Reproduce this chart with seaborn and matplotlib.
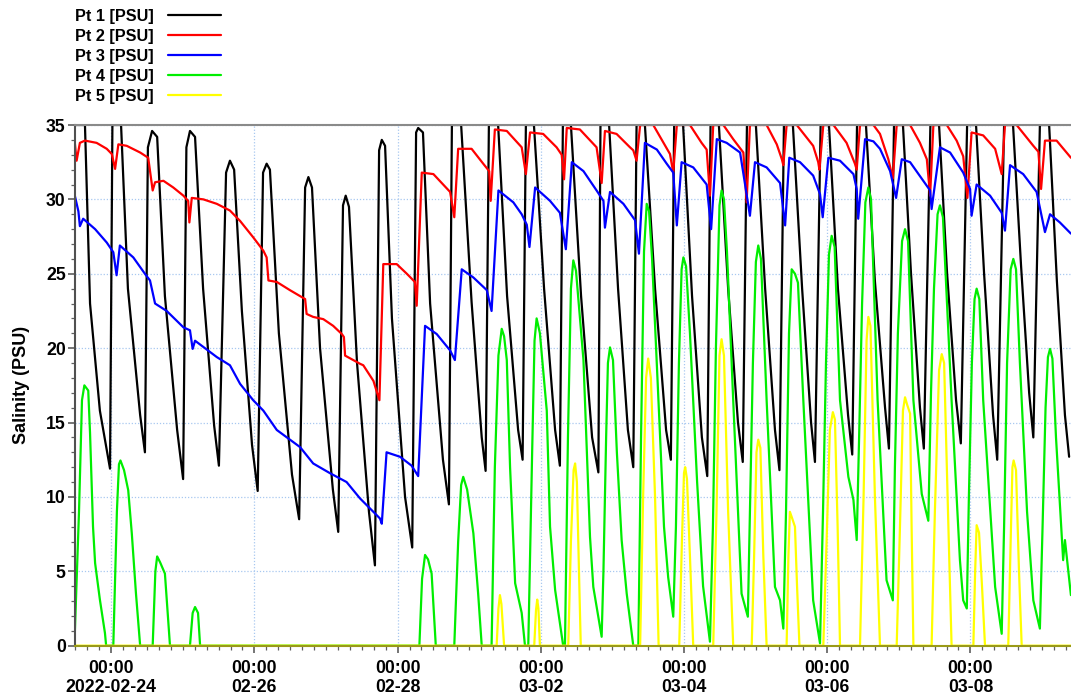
import matplotlib
matplotlib.use("Agg")
import matplotlib.pyplot as plt
import matplotlib.dates as mdates
from matplotlib.ticker import MultipleLocator
from matplotlib.lines import Line2D
import pandas as pd
import seaborn as sns

# ---------------- data (hours after 2022-02-24 00:00, salinity PSU) ----------------
series_names = ["Pt 1 [PSU]", "Pt 2 [PSU]", "Pt 3 [PSU]", "Pt 4 [PSU]", "Pt 5 [PSU]"]
series_colors = ["#000000", "#ff0000", "#0000ff", "#00ee00", "#ffff00"]

pt1_h = [-12.1, -8.8, -7.1, -3.8, -0.4,
         0.4, 3.3, 5.6, 9.7, 11.3,
         12.3, 13.7, 15.4, 18.0, 22.1, 24.1,
         25.2, 26.4, 28.1, 30.8, 34.5, 36.1,
         38.5, 39.8, 41.2, 43.8, 47.2, 49.1,
         50.9, 52.1, 53.2, 56.2, 60.6, 63.0,
         65.0, 66.1, 67.3, 70.0, 74.3, 76.1,
         77.7, 78.6, 79.7, 82.4, 86.4, 88.4,
         89.8, 90.7, 91.8, 94.1, 98.5, 100.9,
         102.2, 102.9, 104.5, 106.9, 111.2, 113.2,
         114.2, 117.3, 120.8, 124.2, 125.5,
         126.6, 129.7, 132.7, 136.4, 137.9,
         139.0, 141.7, 145.1, 148.8, 150.4,
         151.4, 154.1, 157.5, 161.2, 163.3,
         164.0, 166.9, 169.9, 173.2, 175.0,
         176.1, 178.9, 182.3, 186.0, 187.6,
         188.7, 191.7, 194.7, 198.0, 199.8,
         200.9, 203.7, 206.8, 210.1, 211.7,
         213.1, 216.1, 219.2, 222.5, 224.0,
         225.5, 228.5, 231.6, 234.6, 235.9,
         237.8, 240.6, 243.6, 247.0, 248.4,
         250.0, 253.0, 256.0, 259.4, 260.7,
         262.4, 265.4, 268.1, 271.1, 272.4,
         274.6, 277.5, 280.2, 283.2, 284.8,
         286.9, 289.9, 292.6, 295.6, 297.0,
         299.3, 302.3, 305.0, 307.7, 309.1,
         311.3, 314.4, 317.0, 319.7, 321.1]
pt1_v = [35, 35, 23, 15.8, 11.9,
         35, 35, 24, 15.5, 13.0,
         33.5, 34.6, 34.2, 23.5, 14.5, 11.2,
         33.5, 34.6, 34.2, 24, 14.8, 12.1,
         31.8, 32.6, 32.0, 22.5, 13.5, 10.4,
         31.8, 32.4, 32.0, 21, 11.5, 8.5,
         30.8, 31.5, 30.8, 20, 10.5, 7.65,
         29.6, 30.25, 29.5, 19, 9, 5.4,
         33.3, 34.0, 33.6, 22, 10, 6.6,
         34.5, 34.8, 34.5, 23, 12.5, 9.5,
         35, 35, 23.1, 14.0, 11.75,
         35, 35, 23.5, 14.5, 12.5,
         35, 35, 24, 14.5, 12.1,
         35, 35, 23.5, 14, 11.65,
         35, 35, 24, 14.5, 12.0,
         35, 35, 24, 14.5, 12.5,
         35, 35, 23.5, 14, 11.4,
         35, 35, 24, 15, 12.35,
         35, 35, 24, 14.5, 11.8,
         35, 35, 24, 15, 12.35,
         35, 35, 24, 15.5, 12.85,
         35, 35, 24.5, 16, 13.25,
         35, 35, 25, 16, 13.25,
         35, 35, 25, 16.5, 13.6,
         35, 35, 25, 15.5, 12.5,
         35, 35, 25.5, 17, 14.0,
         35, 35, 24.5, 15.5, 12.7]

pt2_h = [-12.2, -11.6, -10.5, -8.8, -4.9, -1.5, 0.2, 1.3, 2.4, 5.2,
         9.7, 12.4, 13.9, 14.7, 17.5, 20.8, 24.2, 25.8, 26.2, 27.0,
         30.9, 35.4, 39.8, 43.2, 47.6, 51.0, 52.1, 52.7, 55.5, 59.9,
         63.3, 65.0, 65.5, 67.7, 71.1, 74.4, 77.3, 78.0, 78.4, 83.4,
         84.5, 87.9, 89.9, 91.2, 95.7, 99.1, 101.8, 102.4, 104.1, 108.0,
         113.6, 115.0, 116.3, 120.8, 124.7, 126.7, 127.2, 128.6, 132.6, 137.6,
         139.0, 140.4, 144.8, 149.3, 151.0, 151.8, 152.7, 157.1, 162.7, 164.4,
         165.5, 169.4, 173.9, 175.0, 176.1, 177.3, 181.7, 187.3, 188.4, 189.6,
         194.0, 197.9, 199.6, 200.7, 201.8, 205.2, 208.5, 211.9, 213.0, 214.1,
         219.7, 223.1, 224.8, 225.3, 226.4, 229.8, 235.3, 237.0, 237.4, 238.7,
         242.1, 246.5, 249.3, 249.9, 251.0, 255.5, 257.7, 260.5, 262.0, 263.3,
         267.8, 271.1, 273.4, 274.5, 275.6, 280.1, 283.4, 285.6, 287.0, 288.4,
         292.3, 296.3, 298.5, 299.6, 303.5, 309.1, 310.8, 311.7, 313.0, 316.9,
         321.7]
pt2_v = [33.8, 32.6, 33.8, 33.95, 33.8, 33.4, 33.05, 32.05, 33.7, 33.6,
         33.15, 32.8, 30.6, 31.15, 31.25, 30.8, 30.25, 29.9, 28.45, 30.1,
         30.0, 29.7, 29.25, 28.55, 27.45, 26.55, 26.1, 24.55, 24.45, 23.9,
         23.5, 23.3, 22.3, 22.1, 21.95, 21.5, 20.95, 20.75, 19.5, 18.95,
         18.85, 17.8, 16.5, 25.65, 25.65, 25.0, 24.45, 22.85, 31.8, 31.7,
         30.5, 28.8, 33.4, 33.4, 32.4, 31.9, 29.9, 34.7, 34.6, 33.5,
         31.7, 34.5, 34.4, 33.5, 33.0, 31.35, 34.8, 34.7, 33.5, 31.1,
         34.6, 34.4, 33.5, 33.3, 32.6, 35, 35, 33.05, 31.8, 35,
         35, 33.8, 33.35, 30.25, 35, 35, 34.05, 33.15, 29.8, 35,
         35, 33.7, 32.7, 32.3, 35, 35, 33.6, 32.5, 32.0, 35,
         35, 33.8, 32.4, 32.0, 35, 35, 34.4, 32.7, 31.4, 35,
         35, 33.8, 32.7, 30.25, 35, 35, 33.95, 32.9, 30.1, 34.5,
         34.3, 33.4, 31.7, 35, 35, 33.6, 33.2, 30.7, 33.95, 33.95,
         32.8]

pt3_h = [-12.2, -11.0, -10.5, -9.4, -5.4, -1.5, 0.7, 1.8, 2.9, 7.4,
         11.3, 13.0, 14.7, 18.6, 24.2, 26.4, 27.3, 28.1, 35.4, 39.8,
         43.2, 47.6, 51.0, 55.5, 63.3, 67.7, 73.3, 78.9, 83.4, 90.1,
         90.7, 92.3, 96.8, 100.7, 102.9, 105.2, 109.1, 113.6, 115.2, 117.5,
         121.4, 125.9, 127.5, 129.8, 134.8, 137.6, 139.3, 140.2, 142.1, 147.1,
         150.4, 152.4, 154.4, 158.3, 162.7, 165.0, 165.5, 167.2, 171.7, 175.6,
         176.9, 178.9, 182.9, 186.2, 188.4, 189.6, 191.2, 195.1, 199.6, 201.1,
         203.0, 206.3, 210.8, 212.4, 214.1, 215.8, 219.7, 224.2, 225.9, 227.3,
         230.9, 235.3, 237.6, 238.5, 240.4, 244.3, 248.8, 249.9, 250.4, 252.7,
         255.5, 257.7, 261.1, 263.1, 265.0, 267.8, 274.5, 275.0, 277.8, 281.2,
         285.6, 287.9, 288.4, 290.1, 294.6, 298.5, 299.6, 301.3, 305.7, 310.2,
         313.0, 314.7, 318.0, 321.7]
pt3_v = [30.25, 29.2, 28.2, 28.7, 28.0, 27.1, 26.45, 24.9, 26.9, 26.1,
         25.0, 24.55, 23.0, 22.5, 21.4, 21.2, 19.95, 20.5, 19.4, 18.85,
         17.6, 16.5, 15.8, 14.5, 13.35, 12.25, 11.6, 11.0, 9.9, 8.55,
         8.2, 13.0, 12.7, 12.1, 11.4, 21.5, 20.95, 19.85, 19.2, 25.3,
         24.75, 23.9, 22.5, 30.6, 29.8, 29.0, 28.3, 26.8, 30.8, 29.9,
         29.1, 26.65, 32.5, 31.9, 30.6, 29.9, 28.1, 30.5, 29.7, 28.6,
         26.35, 33.8, 33.35, 32.4, 31.8, 28.25, 32.5, 32.15, 31.0, 28.0,
         34.05, 33.8, 33.15, 31.1, 28.9, 32.5, 32.15, 31.1, 28.25, 32.8,
         32.5, 31.6, 30.35, 28.8, 32.8, 32.6, 31.7, 30.7, 28.7, 34.05,
         33.9, 33.4, 31.9, 30.1, 32.7, 32.5, 30.6, 29.35, 33.5, 33.15,
         31.8, 30.7, 28.9, 31.0, 30.25, 29.1, 27.9, 32.3, 31.7, 30.5,
         27.8, 29.0, 28.45, 27.7]

pt4_h = [-12.2, -10.8, -9.8, -9.0, -7.7, -7.1, -6.1, -5.4, -3.8, -2.1, -1.7,
         0.7, 1.9, 2.6, 3.1, 4.3, 5.7, 6.9, 8.3, 9.7,
         13.9, 14.8, 15.4, 16.4, 18.0, 19.7,
         26.4, 27.3, 28.1, 29.1, 29.8,
         103.3, 104.2, 105.2, 106.2, 107.4, 108.8,
         115.0, 116.3, 117.3, 118.0, 119.3, 121.4, 123.0, 124.2,
         127.5, 128.6, 129.8, 130.9, 131.7, 132.6, 133.7, 135.4, 137.6, 138.7,
         139.8, 141.1, 141.9, 142.6, 143.7, 146.0, 147.1, 148.8, 151.5,
         152.1, 153.1, 154.1, 154.9, 155.8, 158.3, 160.5, 161.6, 164.4,
         165.0, 165.9, 166.5, 167.2, 168.2, 169.5, 171.1, 172.8, 175.0,
         176.7, 177.6, 178.6, 179.5, 180.3, 181.3, 184.0, 185.3, 186.7, 188.4,
         189.3, 190.3, 191.2, 191.8, 192.7, 194.0, 196.4, 198.4, 200.7,
         201.7, 202.7, 203.9, 204.6, 205.4, 206.4, 208.5, 211.3, 213.4,
         214.1, 215.1, 216.1, 216.9, 217.8, 219.7, 222.5, 224.2, 225.3,
         226.2, 227.2, 228.1, 229.2, 230.2, 232.0, 235.3, 237.6,
         238.6, 239.6, 240.6, 241.5, 242.5, 244.3, 247.1, 248.8, 249.9,
         250.7, 251.7, 252.8, 253.8, 254.7, 256.9, 259.9, 262.0,
         262.7, 263.7, 265.1, 266.1, 267.1, 268.9, 271.7, 273.9,
         274.8, 275.8, 277.0, 277.8, 278.8, 281.7, 284.5, 285.6, 286.8,
         287.5, 288.5, 289.4, 290.1, 291.0, 292.3, 296.3, 298.5,
         299.3, 300.3, 301.5, 302.4, 303.3, 304.6, 307.0, 309.1, 311.3,
         312.2, 313.2, 314.0, 314.7, 315.5, 316.7, 319.1, 319.7, 321.7]
pt4_v = [0.85, 9, 16.5, 17.5, 17.15, 14.3, 8, 5.55, 3.1, 0.85, 0,
         0, 9, 12.2, 12.45, 11.8, 10.45, 7.55, 3.5, 0,
         0, 5, 6.0, 5.6, 4.85, 0,
         0, 2.2, 2.6, 2.2, 0,
         0, 4.5, 6.1, 5.8, 4.85, 0,
         0, 7, 10.8, 11.35, 10.5, 7.55, 3.5, 0,
         0, 12, 19.5, 21.3, 20.8, 19.2, 12, 4.2, 2.2, 0,
         0, 13, 20.5, 22.0, 21.0, 15.8, 8.0, 3.75, 0,
         0, 14, 24, 25.9, 25.2, 19.2, 7.3, 3.95, 0.6,
         5, 14, 19, 20.05, 19.2, 13, 7.1, 3.5, 0,
         0, 14, 26.5, 29.7, 29.2, 26, 14, 8, 4.6, 1.95,
         8, 19, 25.3, 26.1, 25.5, 21, 11, 4, 0.27,
         8, 20, 29.6, 30.6, 30, 26.5, 16.5, 3.5, 1.95,
         9, 19, 25.8, 26.9, 26, 16.5, 3.95, 3.05, 1.15,
         9, 21, 25.3, 25, 24.4, 16.5, 3.05, 0.15,
         9, 19, 26.3, 27.55, 26.8, 16.5, 11.35, 9.8, 7.1,
         14, 23, 29.8, 30.8, 30, 16.5, 4.4, 3.05,
         12, 21, 27.2, 28.0, 27.2, 16.5, 10.2, 8.4,
         17, 24, 29, 29.6, 28.8, 16.5, 5.75, 3.05, 2.5,
         10, 19, 23.3, 24.0, 23.3, 16.5, 3.95, 0.8,
         8, 19, 25.3, 26.0, 25.3, 19, 9, 3.05, 1.15,
         8, 16, 19.4, 19.95, 19.3, 14, 5.75, 7.1, 3.4]

pt5_h = [-12.2,
         129.2, 129.8, 130.3, 130.8, 131.7,
         141.8, 142.4, 142.8, 143.2, 143.7,
         153.2, 154.1, 155.0, 155.5, 156.1, 156.8, 157.4,
         177.3, 178.3, 179.3, 180.0, 180.9, 182.3, 183.5,
         190.4, 191.3, 192.0, 192.4, 193.0, 194.0, 195.1,
         201.8, 202.9, 203.9, 204.6, 205.4, 206.8, 208.5,
         214.7, 215.5, 216.3, 216.9, 217.6, 218.6, 219.7,
         226.4, 227.0, 227.5, 228.2, 229.2, 229.9, 230.7,
         238.7, 239.8, 240.9, 241.9, 242.6, 243.5, 244.3,
         251.0, 252.2, 253.2, 253.8, 254.5, 256.0, 257.7,
         263.3, 264.4, 265.4, 266.1, 266.8, 267.8, 268.3, 268.9,
         275.0, 276.1, 277.5, 278.4, 279.2, 280.5, 281.7,
         289.0, 289.6, 290.1, 290.9, 291.9, 292.9,
         300.7, 301.5, 302.1, 302.5, 303.3, 304.3, 305.2,
         321.7]
pt5_v = [0,
         0, 2.5, 3.4, 2.8, 0,
         0, 2.4, 3.1, 2.5, 0,
         0, 7, 11.8, 12.25, 11, 5, 0,
         0, 10, 18, 19.3, 18, 10, 0,
         0, 7, 11.6, 12.0, 11.2, 6, 0,
         0, 9, 19.5, 20.6, 19.5, 9, 0,
         0, 6, 13, 13.85, 13.3, 6, 0,
         0, 6, 9.0, 8.6, 8.0, 4, 0,
         0, 7, 14.5, 15.7, 15.2, 8, 0,
         0, 10, 20.5, 22.1, 21.5, 10, 0,
         0, 8, 15.8, 16.7, 16.2, 15.6, 8, 0,
         0, 9, 18.5, 19.6, 19, 9, 0,
         0, 5, 8.1, 7.6, 4, 0,
         0, 7, 12, 12.45, 11.8, 5, 0,
         0]

tick_days = ["2022-02-24", "2022-02-26", "2022-02-28", "2022-03-02",
             "2022-03-04", "2022-03-06", "2022-03-08"]
tick_labels = ["00:00\n2022-02-24", "00:00\n02-26", "00:00\n02-28", "00:00\n03-02",
               "00:00\n03-04", "00:00\n03-06", "00:00\n03-08"]
x_start_h, x_end_h = -12.24, 321.73

# ---------------- build table ----------------
t0 = pd.Timestamp("2022-02-24 00:00")
all_h = [pt1_h, pt2_h, pt3_h, pt4_h, pt5_h]
all_v = [pt1_v, pt2_v, pt3_v, pt4_v, pt5_v]
frames = []
for name, hh, vv in zip(series_names, all_h, all_v):
    frames.append(pd.DataFrame({"time": t0 + pd.to_timedelta(hh, unit="h"),
                                "salinity": vv, "series": name}))
df = pd.concat(frames, ignore_index=True)

# ---------------- style ----------------
sns.set_style("ticks")
plt.rcParams["font.family"] = ["Liberation Sans", "DejaVu Sans"]
plt.rcParams["text.color"] = "black"
plt.rcParams["axes.labelcolor"] = "black"
plt.rcParams["xtick.color"] = "black"
plt.rcParams["ytick.color"] = "black"

W, H = 1071, 696
fig = plt.figure(figsize=(W / 100, H / 100), dpi=100)
left_px, right_px, top_px, bottom_px = 74.7, 1071, 125, 645.7
ax = fig.add_axes([left_px / W, 1 - bottom_px / H,
                   (right_px - left_px) / W, (bottom_px - top_px) / H])

palette = dict(zip(series_names, series_colors))
sns.lineplot(data=df, x="time", y="salinity", hue="series", hue_order=series_names,
             palette=palette, estimator=None, sort=False, linewidth=1.6,
             legend=False, ax=ax)

ax.set_xlim(t0 + pd.Timedelta(hours=x_start_h), t0 + pd.Timedelta(hours=x_end_h))
ax.set_ylim(0, 35)
ax.yaxis.set_major_locator(MultipleLocator(5))
ax.yaxis.set_minor_locator(MultipleLocator(1))
ax.set_xticks([pd.Timestamp(d) for d in tick_days])
ax.set_xticklabels(tick_labels)
ax.xaxis.set_minor_locator(mdates.HourLocator(byhour=range(0, 24, 4)))

ax.grid(True, which="major", color="#a8c8f0", linestyle=(0, (1, 1.5)), linewidth=0.9)
ax.set_axisbelow(True)

ax.spines["right"].set_visible(False)
ax.spines["top"].set_color("#8a8a8a")
ax.spines["top"].set_linewidth(1.5)
ax.spines["left"].set_color("#505050")
ax.spines["left"].set_linewidth(1.5)
ax.spines["bottom"].set_color("#9a9a18")
ax.spines["bottom"].set_linewidth(1.5)

ax.tick_params(axis="both", which="major", length=5, width=1.1, color="#505050",
               labelsize=12.7, labelcolor="black")
ax.tick_params(axis="y", which="major", pad=1.5)
ax.tick_params(axis="x", which="major", pad=5.0)
ax.tick_params(axis="both", which="minor", length=3, width=0.9, color="#606060")
for lbl in ax.get_xticklabels() + ax.get_yticklabels():
    lbl.set_fontweight("bold")
for lbl in ax.get_xticklabels():
    lbl.set_linespacing(1.2)

ax.set_xlabel("")
ax.set_ylabel("Salinity (PSU)", fontsize=13, fontweight="bold", color="black")
ax.yaxis.set_label_coords((29.5 - left_px) / (right_px - left_px), 0.5)

handles = [Line2D([0], [0], color=c, linewidth=1.6) for c in series_colors]
leg = fig.legend(handles, series_names, loc="upper left",
                 bbox_to_anchor=(75 / W, 1 - 9 / H), bbox_transform=fig.transFigure,
                 frameon=False, markerfirst=False, handlelength=3.3, handletextpad=0.86,
                 labelspacing=0.3, borderpad=0, borderaxespad=0,
                 prop={"weight": "bold", "size": 11.7})
for txt in leg.get_texts():
    txt.set_color("black")

fig.savefig("out.png", dpi=100)
